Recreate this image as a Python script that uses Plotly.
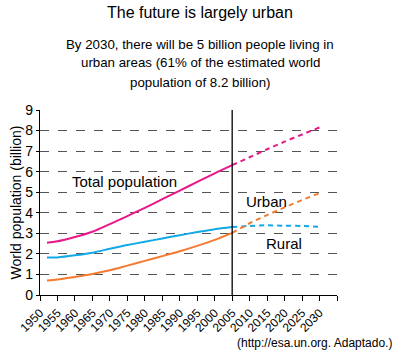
import plotly.graph_objects as go

# ---- data (billions) ----
years_hist = [1952, 1955, 1960, 1965, 1970, 1975, 1980, 1985, 1990, 1995, 2000, 2005]
total_hist = [2.54, 2.61, 2.82, 3.08, 3.45, 3.84, 4.24, 4.66, 5.08, 5.50, 5.92, 6.32]
urban_hist = [0.70, 0.75, 0.88, 1.02, 1.20, 1.43, 1.66, 1.89, 2.13, 2.39, 2.68, 3.02]
rural_hist = [1.82, 1.83, 1.93, 2.06, 2.25, 2.43, 2.59, 2.75, 2.91, 3.06, 3.20, 3.31]

years_proj = [2005, 2010, 2015, 2020, 2025, 2030]
total_proj = [6.32, 6.70, 7.09, 7.46, 7.81, 8.15]
urban_proj = [3.02, 3.49, 3.89, 4.26, 4.62, 4.95]
rural_proj = [3.31, 3.36, 3.39, 3.37, 3.36, 3.31]

tick_years = list(range(1950, 2031, 5))
tick_labels = [str(y) for y in tick_years]

MAG = "#E8178A"
BLU = "#12A9E6"
ORA = "#F47A30"
FONT = "Liberation Sans, Arial, sans-serif"

fig = go.Figure()
for xs, ys, c in [(years_hist, total_hist, MAG), (years_hist, rural_hist, BLU), (years_hist, urban_hist, ORA)]:
    fig.add_trace(go.Scatter(x=xs, y=ys, mode="lines",
                             line=dict(color=c, width=2, shape="spline", smoothing=0.8),
                             showlegend=False, hoverinfo="skip"))
for xs, ys, c in [(years_proj, total_proj, MAG), (years_proj, rural_proj, BLU), (years_proj, urban_proj, ORA)]:
    fig.add_trace(go.Scatter(x=xs, y=ys, mode="lines",
                             line=dict(color=c, width=2, shape="spline", smoothing=0.8, dash="5px,4px"),
                             showlegend=False, hoverinfo="skip"))

# vertical divider at 2005
fig.add_shape(type="line", x0=2005, x1=2005, y0=0, y1=9, xref="x", yref="y",
              line=dict(color="black", width=1.3))

W, H = 409, 357
L, R, T, B = 40, 72, 110, 62
pw, ph = W - L - R, H - T - B
def px(x): return (x - L) / pw
def py(y): return (H - B - y) / ph

def txt(text, x, y, size, xanchor="center", xref="x", yref="y"):
    return dict(text=text, x=x, y=y, xref=xref, yref=yref, showarrow=False,
                xanchor=xanchor, yanchor="middle",
                font=dict(size=size, family=FONT, color="black"))

anns = [
    txt("Total population", 1974.3, 5.5, 15),
    txt("Urban", 2014.7, 4.54, 15),
    txt("Rural", 2019.9, 2.51, 15),
    txt("8.2 billion", 2035.6, 8.23, 13, "left"),
    txt("5.0 billion", 2035.6, 5.02, 13, "left"),
    txt("3.2 billion", 2035.6, 3.27, 13, "left"),
    txt("The future is largely urban", px(200), py(12), 16, xref="paper", yref="paper"),
]
for i, line in enumerate(["By 2030, there will be 5 billion people living in",
                          "urban areas (61% of the estimated world",
                          "population of 8.2 billion)"]):
    anns.append(txt(line, px(200), py(44 + i * 19), 13.3, xref="paper", yref="paper"))
anns.append(txt("(http://esa.un.org. Adaptado.)", px(394), py(343), 12, "right", "paper", "paper"))

fig.update_layout(
    width=W, height=H,
    margin=dict(l=L, r=R, t=T, b=B),
    paper_bgcolor="white", plot_bgcolor="white",
    font=dict(family=FONT, color="black"),
    annotations=anns,
    xaxis=dict(range=[1950, 2035], tickvals=tick_years + [2035], ticktext=tick_labels + [""],
               tickangle=-45, tickfont=dict(size=12), ticks="outside", ticklen=5, tickcolor="black",
               showline=True, linecolor="black", linewidth=1.3, showgrid=False, zeroline=False,
               automargin=False, fixedrange=True),
    yaxis=dict(range=[0, 9], tickvals=list(range(0, 10)), tickfont=dict(size=14),
               ticks="outside", ticklen=3, tickcolor="black",
               showline=True, linecolor="black", linewidth=1.3,
               showgrid=True, gridcolor="#555555", gridwidth=1, griddash="dash", zeroline=False,
               automargin=False, fixedrange=True,
               title=dict(text="World population (billion)", font=dict(size=14), standoff=0)),
)

fig.write_html("out.html", config={"displayModeBar": False},
               post_script="document.body.style.margin='0';")
